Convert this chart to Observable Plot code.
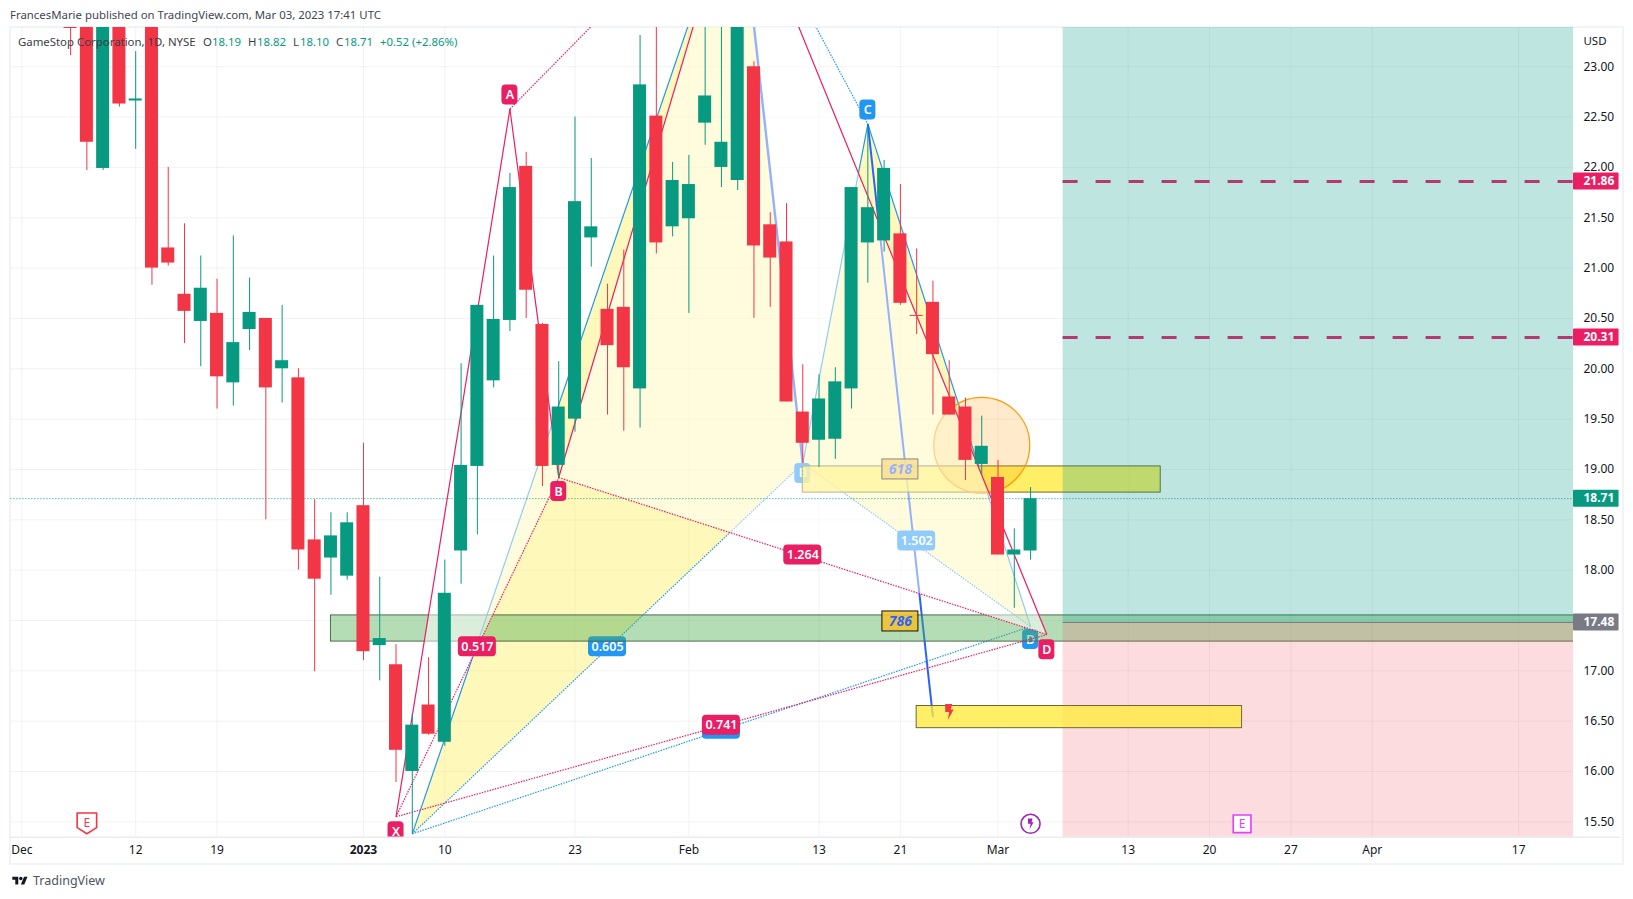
<!DOCTYPE html>
<html>
<head>
<meta charset="utf-8">
<script src="https://cdn.jsdelivr.net/npm/d3@7"></script>
<script src="https://cdn.jsdelivr.net/npm/@observablehq/plot@0.6"></script>
<style>
html,body{margin:0;padding:0;background:#fff;width:1633px;height:899px;overflow:hidden;font-family:"Noto Sans",sans-serif}
#frame{position:absolute;left:9px;top:26px;width:1611px;height:835px;border:2px solid #f0f3fa}
#chart{position:absolute;left:0;top:0}
.t{position:absolute;white-space:nowrap;font-size:11.4px;line-height:16px;color:#3b3e48}
.v{color:#089981}
</style>
</head>
<body>
<div id="frame"></div>
<div id="chart"></div>
<div class="t" style="left:10px;top:7px;color:#42454f">FrancesMarie published on TradingView.com, Mar 03, 2023 17:41 UTC</div>
<div class="t" style="left:18px;top:34px">GameStop Corporation, 1D, NYSE</div>
<div class="t" style="left:203px;top:34px">O</div><div class="t v" style="left:212px;top:34px">18.19</div>
<div class="t" style="left:248px;top:34px">H</div><div class="t v" style="left:257px;top:34px">18.82</div>
<div class="t" style="left:293px;top:34px">L</div><div class="t v" style="left:300px;top:34px">18.10</div>
<div class="t" style="left:336px;top:34px">C</div><div class="t v" style="left:344px;top:34px">18.71</div>
<div class="t v" style="left:380px;top:34px">+0.52 (+2.86%)</div>
<svg style="position:absolute;left:10px;top:875px" width="20" height="12" viewBox="0 0 36 28"><path fill="#131722" d="M14 22H7V11H0V4h14v18ZM28 22h-8l7.5-18h8L28 22Z"/><circle fill="#131722" cx="20" cy="8" r="4"/></svg>
<div class="t" style="left:33px;top:873px;font-size:12.5px;color:#50535e">TradingView</div>
<script>
// candle index of the first entry in the OHLC arrays
const firstBar = 3;
const opens  = [23.60,24.20,21.99,23.80,22.66,23.90,21.20,20.74,20.47,20.55,19.86,20.39,20.50,20.00,19.91,18.30,18.12,17.94,18.64,17.25,17.06,16.00,16.66,16.29,18.19,19.03,19.88,20.48,22.01,20.44,19.04,19.50,21.30,20.59,20.61,19.80,22.51,21.41,21.49,22.44,22.00,21.87,23.00,21.43,21.26,19.57,19.29,19.30,19.80,21.25,21.27,21.34,20.53,20.66,19.72,19.62,19.05,18.92,18.15,18.19];
const highs  = [23.70,24.40,24.30,24.10,23.15,24.20,22.00,21.44,21.12,20.89,21.32,20.90,20.50,20.63,20.00,18.70,18.57,18.57,19.26,17.93,17.26,16.57,17.13,18.10,20.05,20.63,21.12,21.94,22.15,20.45,20.07,22.50,22.09,20.84,21.18,23.31,23.90,22.05,22.12,23.60,23.50,24.20,23.05,21.55,21.64,20.04,19.94,20.01,21.80,22.43,22.07,21.83,21.19,20.87,20.08,19.71,19.53,19.09,18.41,18.82];
const lows   = [23.11,21.97,21.97,22.60,22.18,20.83,21.02,20.25,20.02,19.60,19.63,20.18,18.50,19.66,18.00,16.99,17.75,17.90,17.10,16.90,15.89,15.38,16.36,16.25,17.86,18.35,19.81,20.37,20.50,18.83,18.91,19.37,21.01,19.54,19.38,19.41,21.14,21.31,20.55,22.22,21.80,21.77,20.50,20.61,19.67,19.06,19.02,19.10,19.60,20.85,21.16,20.63,20.34,19.54,19.54,18.89,18.94,18.15,17.62,18.10];
const closes = [23.38,22.25,24.00,22.63,22.68,21.00,21.05,20.57,20.80,19.92,20.26,20.56,19.81,20.08,18.20,17.91,18.34,18.47,17.19,17.32,16.21,16.46,16.37,17.77,19.04,20.63,20.49,21.80,20.78,19.03,19.62,21.66,21.41,20.23,20.01,22.82,21.25,21.87,21.83,22.71,22.25,23.90,21.22,21.10,19.67,19.26,19.70,19.87,21.80,21.60,21.99,20.65,20.52,20.14,19.54,19.09,19.23,18.15,18.20,18.71];

const xTicks  = [0,7,12,21,26,34,41,49,54,60,68,73,78,83,92];
const xLabels = ["Dec","12","19","2023","10","23","Feb","13","21","Mar","13","20","27","Apr","17"];
const yTicks  = [15.5,16,16.5,17,17.5,18,18.5,19,19.5,20,20.5,21,21.5,22,22.5,23];

// harmonic patterns: X A B C D
const blueIdx   = [24,44,48,52,62];
const bluePrice = [15.38,24.85,19.06,22.43,17.44];
const pinkIdx   = [23,30,33,44,63];
const pinkPrice = [15.55,22.58,18.92,24.88,17.36];

const projIdx   = [52,56];
const projPrice = [22.43,16.54];

// the blue tag under the pink 0.741 tag shows only as an edge
const blueTagText  = ["B","C","D","0.605","1.502",""];
const blueTagIdx   = [48,52,62,36,55,43];
const blueTagPrice = [18.96,22.57,17.31,17.24,18.29,16.42];
const pinkTagText  = ["X","A","B","D","0.517","1.264","0.741"];
const pinkTagIdx   = [23,30,33,63,28,48,43];
const pinkTagPrice = [15.40,22.72,18.78,17.21,17.24,18.15,16.46];

const fibText  = ["618","786"];
const fibIdx   = [54,54];
const fibPrice = [19.0,17.49];

// boxes [start, end, top, bottom]
const greenBox  = [19,95.4,17.55,17.29];
const yellowBox1 = [48,70,19.03,18.77];
const yellowBox2 = [55,75,16.65,16.43];

const toolStart = 64, toolEnd = 95.37, toolEntry = 17.48;
const targets = [21.86,20.31];
const lastPrice = 18.71;
const axisTagText  = ["21.86","20.31","18.71","17.48"];
const axisTagPrice = [21.86,20.31,18.71,17.48];
const axisTagColor = ["#e91e63","#e91e63","#089981","#787b86"];

const xMin=-0.67, xMax=95.37, yMin=15.347, yMax=23.39;
const pxX=16.27, pxY=100.67;
const up="#089981", down="#f23645";

const candles = opens.map((o,k)=>({i:firstBar+k,o,h:highs[k],l:lows[k],c:closes[k]}));
const seg=(xs,ys,pairs)=>pairs.map(([a,b])=>({x1:xs[a],y1:ys[a],x2:xs[b],y2:ys[b]}));
const tris=(xs,ys)=>[[0,1,2],[2,3,4]].flatMap((t,n)=>t.map(k=>({n,x:xs[k],y:ys[k]})));

function tags(text,xs,ys,fill,w=16,h=20){
  const data=text.map((s,k)=>{
    const W=s.length===1?w:38;
    return {s,x:xs[k],y:ys[k],x1:xs[k]-W/2/pxX,x2:xs[k]+W/2/pxX,y1:ys[k]-h/2/pxY,y2:ys[k]+h/2/pxY};
  });
  return [
    Plot.rect(data,{x1:"x1",x2:"x2",y1:"y1",y2:"y2",fill,rx:4,clip:true}),
    Plot.text(data.filter(d=>d.s),{x:"x",y:"y",text:"s",fill:"white",fontWeight:"600",fontSize:12.5,clip:true})
  ];
}
const box=(b,fill,op,stroke)=>Plot.rect([b],{x1:d=>d[0],x2:d=>d[1],y1:d=>d[3],y2:d=>d[2],fill,fillOpacity:op,stroke,strokeWidth:1,clip:true});

const sym=(pts)=>({draw(ctx,size){const s=Math.sqrt(size)/16;pts.forEach((p,k)=>k?ctx.lineTo(p[0]*s,p[1]*s):ctx.moveTo(p[0]*s,p[1]*s));ctx.closePath();}});
const bolt=sym([[-4,-8],[3,-8],[1.5,-2.5],[4.5,-2.5],[-1.5,8],[0,0],[-4,0]]);
const shield=sym([[-8,-8],[8,-8],[8,4],[0,9],[-8,4]]);
const square=sym([[-8,-8],[8,-8],[8,8],[-8,8]]);
const fibW=36/pxX/2, fibH=20/pxY/2;

const marks=[
  // grid
  Plot.ruleX(xTicks,{stroke:"rgba(42,46,57,0.06)"}),
  Plot.ruleY(yTicks,{stroke:"rgba(42,46,57,0.06)"}),
  // blue pattern
  Plot.line(tris(blueIdx,bluePrice),{x:"x",y:"y",z:"n",fill:"#ffeb3b",fillOpacity:0.35,stroke:"none",curve:"linear-closed",clip:true}),
  Plot.link(seg(blueIdx,bluePrice,[[0,1],[2,3],[3,4]]),{x1:"x1",y1:"y1",x2:"x2",y2:"y2",stroke:"#2196f3",strokeWidth:1.2,clip:true}),
  Plot.link(seg(blueIdx,bluePrice,[[1,2]]),{x1:"x1",y1:"y1",x2:"x2",y2:"y2",stroke:"#2962ff",strokeWidth:2.4,clip:true}),
  Plot.link(seg(projIdx,projPrice,[[0,1]]),{x1:"x1",y1:"y1",x2:"x2",y2:"y2",stroke:"#2962ff",strokeWidth:2,clip:true}),
  Plot.link(seg(blueIdx,bluePrice,[[0,2],[2,4],[0,4],[1,3]]),{x1:"x1",y1:"y1",x2:"x2",y2:"y2",stroke:"#2196f3",strokeWidth:1.2,strokeDasharray:"1.5 1.2",clip:true}),
  ...tags(blueTagText,blueTagIdx,blueTagPrice,"#2196f3"),
  // zones
  box(greenBox,"#4caf50",0.42,"#4d6b4f"),
  box(yellowBox1,"#ffeb3b",0.78,"#6b6a35"),
  // fib tags
  Plot.rect(fibText.map((s,k)=>({x:fibIdx[k],y:fibPrice[k]})),{x1:d=>d.x-fibW,x2:d=>d.x+fibW,y1:d=>d.y-fibH,y2:d=>d.y+fibH,fill:"#f2c230",fillOpacity:0.9,stroke:"#111",strokeWidth:1}),
  Plot.text(fibText.map((s,k)=>({s,x:fibIdx[k],y:fibPrice[k]})),{x:"x",y:"y",text:"s",fill:"#2962ff",fontWeight:"bold",fontStyle:"italic",fontSize:14}),
  // circle
  Plot.dot([{x:59,y:19.24}],{x:"x",y:"y",r:48,fill:"#ff9800",fillOpacity:0.2,stroke:"#ff9800",strokeWidth:1.2}),
  // position tool
  Plot.rect([0],{x1:toolStart,x2:toolEnd,y1:toolEntry,y2:yMax,fill:"#009688",fillOpacity:0.25}),
  Plot.rect([0],{x1:toolStart,x2:toolEnd,y1:yMin,y2:toolEntry,fill:"#f7525f",fillOpacity:0.2}),
  Plot.ruleY([toolEntry],{x1:toolStart,x2:toolEnd,stroke:"#787b86",strokeWidth:1}),
  Plot.ruleY(targets,{x1:toolStart,x2:toolEnd,stroke:"#b23a70",strokeWidth:3,strokeDasharray:"15 18"}),
  box(yellowBox2,"#ffeb3b",0.78,"#6b6a35"),
  // pink pattern wash and lines
  Plot.line(tris(pinkIdx,pinkPrice),{x:"x",y:"y",z:"n",fill:"white",fillOpacity:0.5,stroke:"none",curve:"linear-closed",clip:true}),
  Plot.link(seg(pinkIdx,pinkPrice,[[0,1],[1,2],[2,3],[3,4]]),{x1:"x1",y1:"y1",x2:"x2",y2:"y2",stroke:"#e91e63",strokeWidth:1.2,clip:true}),
  Plot.link(seg(pinkIdx,pinkPrice,[[0,2],[2,4],[0,4],[1,3]]),{x1:"x1",y1:"y1",x2:"x2",y2:"y2",stroke:"#e91e63",strokeWidth:1.2,strokeDasharray:"1.5 1.2",clip:true}),
  // last price
  Plot.ruleY([lastPrice],{stroke:up,strokeWidth:1,strokeDasharray:"1 2"}),
  // candles
  Plot.ruleX(candles,{x:"i",y1:"l",y2:"h",stroke:d=>d.c>=d.o?up:down,clip:true}),
  Plot.rect(candles,{x1:d=>d.i-0.4,x2:d=>d.i+0.4,y1:"o",y2:"c",fill:d=>d.c>=d.o?up:down,clip:true}),
  ...tags(pinkTagText,pinkTagIdx,pinkTagPrice,"#e91e63"),
  // events
  Plot.dot([{x:57,y:16.59}],{x:"x",y:"y",r:9,symbol:bolt,fill:"#f23645",stroke:"none"}),
  Plot.dot([{x:62,y:15.48}],{x:"x",y:"y",r:9.5,fill:"white",stroke:"#9c27b0",strokeWidth:1.6}),
  Plot.dot([{x:62,y:15.48}],{x:"x",y:"y",r:6,symbol:bolt,fill:"#9c27b0",stroke:"none"}),
  Plot.dot([{x:4,y:15.49}],{x:"x",y:"y",r:11,symbol:shield,fill:"white",stroke:"#f23645",strokeWidth:1.6}),
  Plot.text([{x:4,y:15.49}],{x:"x",y:"y",text:()=>"E",fill:"#f23645",fontSize:12}),
  Plot.dot([{x:75,y:15.48}],{x:"x",y:"y",r:10,symbol:square,fill:"white",stroke:"#e040fb",strokeWidth:1.6}),
  Plot.text([{x:75,y:15.48}],{x:"x",y:"y",text:()=>"E",fill:"#e040fb",fontSize:12}),
  // frame line
  Plot.ruleY([yMin],{x1:xMin,x2:98.3,stroke:"#e0e3eb"}),
  // axes
  Plot.axisY({anchor:"right",ticks:yTicks,tickSize:0,tickPadding:10,tickFormat:d=>d.toFixed(2),label:null,fill:"#131722",fontSize:12}),
  Plot.axisX({anchor:"bottom",ticks:xTicks.filter(t=>t!==21),tickSize:0,tickPadding:8,tickFormat:d=>xLabels[xTicks.indexOf(d)],label:null,fill:"#131722",fontSize:12}),
  Plot.axisX({anchor:"bottom",ticks:[21],tickSize:0,tickPadding:8,tickFormat:d=>xLabels[xTicks.indexOf(d)],label:null,fill:"#131722",fontSize:12,fontWeight:"bold"}),
  Plot.text(["USD"],{x:95.98,y:23.25,text:d=>d,textAnchor:"start",fill:"#131722",fontSize:11.5}),
  // axis price tags
  Plot.rect(axisTagText.map((s,k)=>({y:axisTagPrice[k],f:axisTagColor[k]})),{x1:xMax,x2:xMax+2.8,y1:d=>d.y-8.5/pxY,y2:d=>d.y+8.5/pxY,fill:"f",rx:1}),
  Plot.text(axisTagText.map((s,k)=>({s,y:axisTagPrice[k]})),{x:95.98,y:"y",text:"s",textAnchor:"start",fill:"white",fontWeight:"bold",fontSize:12})
];

const chart=Plot.plot({
  width:1633,height:899,
  marginLeft:10.4,marginRight:60,marginTop:27,marginBottom:62.3,
  style:{background:"transparent",fontFamily:'"Noto Sans",sans-serif',fontSize:"12px",overflow:"visible"},
  x:{type:"linear",domain:[xMin,xMax]},
  y:{type:"linear",domain:[yMin,yMax]},
  marks
});
document.getElementById("chart").appendChild(chart);
</script>
</body>
</html>
